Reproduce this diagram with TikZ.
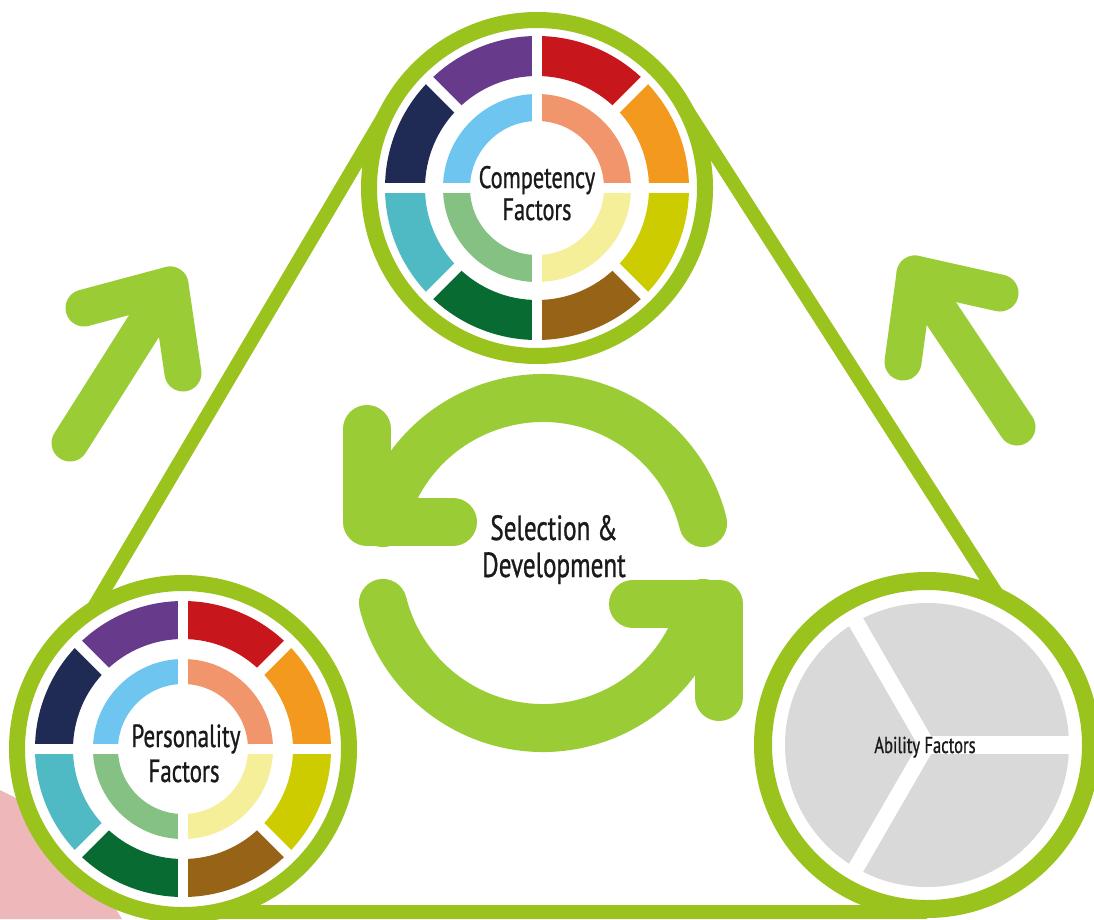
\documentclass[tikz,border=0pt]{standalone}
\usepackage{fontspec}
\newfontfamily\labelfont[FakeStretch=0.72,FakeBold=0.8]{PT Sans}
\usetikzlibrary{calc}

\definecolor{ringgreen}{RGB}{155,195,30}
\definecolor{arrowgreen}{RGB}{154,205,53}
\definecolor{pinkblob}{RGB}{238,184,186}
\definecolor{abilgray}{RGB}{217,217,217}
\definecolor{labelink}{RGB}{26,26,26}
% outer wheel colours
\definecolor{wOrange}{RGB}{243,154,30}
\definecolor{wRed}{RGB}{200,22,29}
\definecolor{wPurple}{RGB}{103,58,140}
\definecolor{wNavy}{RGB}{31,42,85}
\definecolor{wTeal}{RGB}{79,186,196}
\definecolor{wDkGreen}{RGB}{8,107,50}
\definecolor{wBrown}{RGB}{151,99,23}
\definecolor{wOlive}{RGB}{204,204,0}
% inner wheel colours
\definecolor{wSalmon}{RGB}{241,149,108}
\definecolor{wSky}{RGB}{110,197,240}
\definecolor{wMint}{RGB}{134,193,132}
\definecolor{wCream}{RGB}{246,239,153}

\tikzset{
  tri/.style={draw=ringgreen, line width=14},
  ring/.style={draw=ringgreen, line width=16},
  gapline/.style={draw=white, line width=10},
  cyc/.style={draw=arrowgreen, line width=48, line cap=round, line join=round},
  sidearrow/.style={draw=arrowgreen, line width=37, line cap=round, line join=round},
  lbl/.style={text=labelink, inner sep=0pt, anchor=base},
}

% colour wheel: centre, outer band radii (out/in), inner band radii (out/in)
\newcommand\colourwheel[5]{%
  \foreach \a/\c in {0/wOrange,45/wRed,90/wPurple,135/wNavy,180/wTeal,225/wDkGreen,270/wBrown,315/wOlive}{
    \fill[\c] ($(#1)+(-\a:#2)$) arc[start angle=-\a, delta angle=-45, radius=#2]
      -- ($(#1)+(-\a-45:#3)$) arc[start angle=-\a-45, delta angle=45, radius=#3] -- cycle;}
  \foreach \a in {45,135}{
    \draw[gapline] ($(#1)+(-\a:#2+4)$) -- ($(#1)+(180-\a:#2+4)$);}
  \foreach \a/\c in {0/wSalmon,90/wSky,180/wMint,270/wCream}{
    \fill[\c] ($(#1)+(-\a:#4)$) arc[start angle=-\a, delta angle=-90, radius=#4]
      -- ($(#1)+(-\a-90:#5)$) arc[start angle=-\a-90, delta angle=90, radius=#5] -- cycle;}
  \foreach \a in {0,90}{
    \draw[gapline] ($(#1)+(-\a:#2+4)$) -- ($(#1)+(180-\a:#2+4)$);}
}

\begin{document}
\begin{tikzpicture}[x=1pt,y=-1pt]
\useasboundingbox (0,0) rectangle (1094,919);
\fill[white] (0,0) rectangle (1094,919);

% centres
\coordinate (compC) at (537,188);
\coordinate (persC) at (183,749);
\coordinate (abilC) at (927,745);
\coordinate (cycC)  at (543,563);

% pink shape behind the personality wheel
\fill[pinkblob] (0,790) -- (60,820) -- (122,919) -- (0,919) -- cycle;

% triangle sides
\coordinate (triLa) at (392,102.5);
\coordinate (triLb) at (38,702);
\coordinate (triRa) at (678.5,97);
\coordinate (triRb) at (1066,702);
\coordinate (triBa) at (183,912);
\coordinate (triBb) at (927,912);
\draw[tri] (triLa) -- (triLb);
\draw[tri] (triRa) -- (triRb);
\draw[tri] (triBa) -- (triBb);

% competency wheel
\fill[white] (compC) circle[radius=168];
\colourwheel{compC}{152}{112}{94}{67}
\draw[ring] (compC) circle[radius=168];

% personality wheel
\fill[white] (persC) circle[radius=166];
\colourwheel{persC}{148}{110}{90}{65}
\draw[ring] (persC) circle[radius=166];

% ability disc
\fill[white] (abilC) circle[radius=164];
\fill[abilgray] (abilC) circle[radius=142];
\draw[white, line width=18] (abilC) -- ++(0:150);
\draw[white, line width=16] (abilC) -- ++(-120:150);
\draw[white, line width=16] (abilC) -- ++(-240:150);
\fill[white] (abilC) circle[radius=8];
\draw[draw=ringgreen, line width=18] (abilC) circle[radius=164];

% cycle arrows
\coordinate (uh1) at (367,429);
\coordinate (uh2) at (367,522);
\coordinate (uh3) at (453,522);
\coordinate (lh1) at (719,697);
\coordinate (lh2) at (719,604);
\coordinate (lh3) at (633,604);
\draw[cyc] ($(cycC)+(-14:165)$) arc[start angle=-14, end angle=-166, radius=165];
\draw[cyc] (uh1) -- (uh2) -- (uh3);
\draw[cyc] ($(cycC)+(-194:165)$) arc[start angle=-194, end angle=-346, radius=165];
\draw[cyc] (lh1) -- (lh2) -- (lh3);

% side arrows
\coordinate (la0) at (70,443);
\coordinate (latip) at (170,285);
\coordinate (la1) at (84,308);
\coordinate (la2) at (183,373);
\draw[sidearrow] (la0) -- (latip);
\draw[sidearrow] (la1) -- (latip) -- (la2);
\coordinate (ra0) at (1017,427);
\coordinate (ratip) at (915,274);
\coordinate (ra1) at (1000,293);
\coordinate (ra2) at (903,362);
\draw[sidearrow] (ra0) -- (ratip);
\draw[sidearrow] (ra1) -- (ratip) -- (ra2);

% labels
\node[lbl, font=\labelfont\fontsize{31}{31}\selectfont] (comp1) at (537,188) {Competency};
\node[lbl, font=\labelfont\fontsize{31}{31}\selectfont] (comp2) at (537,220) {Factors};
\node[lbl, font=\labelfont\fontsize{32}{32}\selectfont] (pers1) at (186,747) {Personality};
\node[lbl, font=\labelfont\fontsize{32}{32}\selectfont] (pers2) at (184,782) {Factors};
\node[lbl, font=\labelfont\fontsize{35}{35}\selectfont] (cyc1) at (554,540) {Selection \&};
\node[lbl, font=\labelfont\fontsize{35}{35}\selectfont] (cyc2) at (554,577) {Development};
\node[lbl, font=\labelfont\fontsize{23}{23}\selectfont] (abil) at (925,753) {Ability Factors};
\end{tikzpicture}
\end{document}
